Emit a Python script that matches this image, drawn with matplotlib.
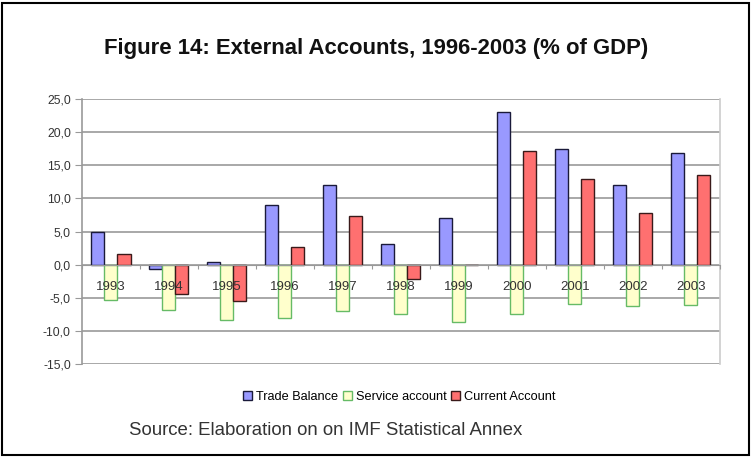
import matplotlib
matplotlib.use("Agg")
import matplotlib.pyplot as plt
import numpy as np
from matplotlib.patches import Rectangle
from matplotlib.ticker import FuncFormatter, FixedLocator

years = ["1993", "1994", "1995", "1996", "1997", "1998", "1999", "2000", "2001", "2002", "2003"]
trade_balance = [5.0, -0.6, 0.4, 9.0, 12.0, 3.2, 7.1, 23.0, 17.5, 12.1, 16.9]
service_account = [-5.4, -6.8, -8.4, -8.1, -7.0, -7.5, -8.7, -7.5, -6.0, -6.3, -6.1]
current_account = [1.6, -4.4, -5.5, 2.7, 7.3, -2.1, 0.0, 17.1, 13.0, 7.8, 13.6]

plt.rcParams['font.family'] = ['Liberation Sans', 'DejaVu Sans']

fig = plt.figure(figsize=(7.52, 4.57), dpi=100)
fig.patches.append(Rectangle((0.002, 0.004), 0.994, 0.99, transform=fig.transFigure,
                             fill=False, edgecolor='black', linewidth=1.5))

ax = fig.add_axes([0.109, 0.2035, 0.848, 0.5795])

n = len(years)
x = np.arange(n) + 0.5
w = 0.225
ax.bar(x - w, trade_balance, w, color='#9999FF', edgecolor='#1a1a3a', linewidth=1.0,
       label='Trade Balance', zorder=3)
ax.bar(x, service_account, w, color='#FFFFCC', edgecolor='#66BB66', linewidth=1.0,
       label='Service account', zorder=3)
ax.bar(x + w, current_account, w, color='#FF7070', edgecolor='#3a1a1a', linewidth=1.0,
       label='Current Account', zorder=3)

ax.set_xlim(0, n)
ax.set_ylim(-15, 25)
ax.set_yticks(np.arange(-15, 26, 5))
ax.yaxis.set_major_formatter(FuncFormatter(lambda v, p: f"{v:.1f}".replace('.', ',')))
ax.grid(axis='y', color='#999999', linewidth=1.2, zorder=0)
ax.set_axisbelow(True)
ax.tick_params(axis='y', labelsize=8.7, length=5, color='#999999', labelcolor='#333333', pad=3)

ax.spines['bottom'].set_position(('data', 0))
ax.spines['bottom'].set_color('#999999')
ax.spines['bottom'].set_zorder(4)
ax.spines['top'].set_visible(False)
ax.spines['left'].set_color('#999999')
ax.spines['left'].set_linewidth(1.2)
ax.spines['right'].set_color('#cccccc')
ax.spines['right'].set_linewidth(1.2)

ax.xaxis.set_major_locator(FixedLocator(np.arange(0, n + 1)))
ax.xaxis.set_major_formatter(FuncFormatter(lambda v, p: ""))
ax.xaxis.set_minor_locator(FixedLocator(x))
ax.set_xticklabels(years, minor=True)
ax.tick_params(axis='x', which='major', length=3, color='#999999', direction='out')
ax.tick_params(axis='x', which='minor', length=0, pad=11.5, labelsize=9.5, labelcolor='#333333')
ax.xaxis.set_zorder(5)

fig.text(0.5, 0.893, "Figure 14: External Accounts, 1996-2003 (% of GDP)",
         ha='center', va='center', fontsize=15.9, fontweight='bold', color='#111111')

leg = fig.legend(loc='center', bbox_to_anchor=(0.531, 0.132), ncol=3, frameon=False,
                 fontsize=9.2, handlelength=0.7, handleheight=0.7, handletextpad=0.3,
                 columnspacing=0.4)

fig.text(0.171, 0.057, "Source: Elaboration on on IMF Statistical Annex",
         ha='left', va='center', fontsize=13.4, color='#333333')

fig.savefig("out.png", dpi=100)
